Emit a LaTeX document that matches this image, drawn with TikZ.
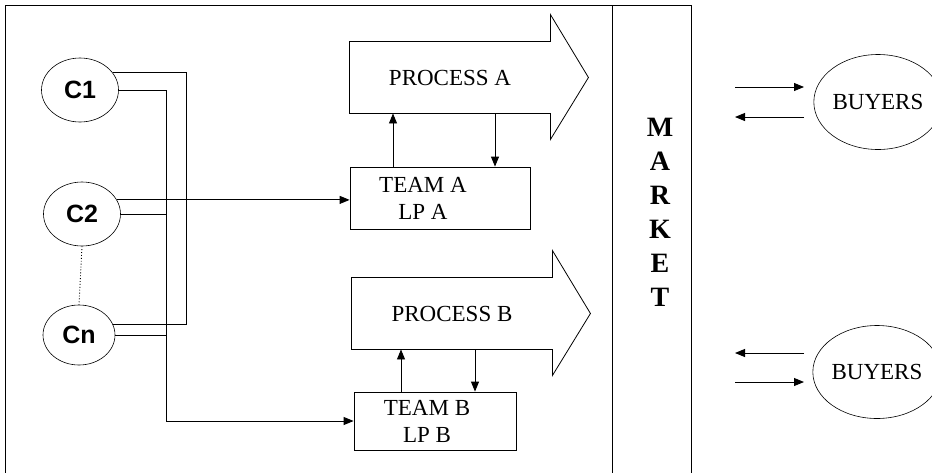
\documentclass[tikz,border=0pt]{standalone}
\usepackage{fontspec}
\setmainfont{Liberation Serif}
\newfontfamily\clientfont{Liberation Sans}
\usetikzlibrary{positioning}
\usetikzlibrary{calc}
\usetikzlibrary{shapes.geometric}
\usetikzlibrary{arrows.meta}

\begin{document}
\begin{tikzpicture}[x=1pt,y=-1pt,>={Triangle[length=10pt,width=8pt]},line width=0.9pt,
			node distance=124pt,font=\fontsize{23}{27}\selectfont]
			\tikzstyle{client}=[draw,ellipse,line width=0.6pt,inner sep=0pt,minimum width=77pt,minimum height=64pt,font=\clientfont\bfseries\fontsize{25}{28}\selectfont]
			\tikzstyle{buyer}=[draw,ellipse,line width=0.6pt,inner sep=0pt]
			\tikzstyle{team}=[draw,rectangle,inner sep=0pt,align=center,line width=0.8pt]
			\tikzstyle{process}=[inner sep=0pt,minimum width=200pt,minimum height=71pt]
			
			\useasboundingbox (0,0) rectangle (932,472);
			
			% frame and market column
			\draw[line width=0.8pt] (5,473) -- (5,5) -- (691,5) -- (691,473);
			\draw[line width=0.8pt] (612,5) -- (612,473);
			\node[font=\bfseries\fontsize{28}{34}\selectfont,align=center] (market) at (660,212) {M\\A\\R\\K\\E\\T};
			
			\node[client]         (C1) at (80,90) {C1};
			\node[client]         (C2) [below of=C1,xshift=2pt] {C2};
			\node[client,minimum width=72pt,minimum height=60pt,node distance=121pt] (Cn) [below of=C2,xshift=-3pt] {Cn};
			
			\node[process]        (procA) at (450,77.5) {PROCESS A};
			\node[process]        (procB) at (452,313.5) {PROCESS B};
			\node[team,minimum width=180pt,minimum height=62pt] (teamA) at (440,198) {TEAM A\hspace*{34pt}\\LP A\hspace*{34pt}};
			\node[team,minimum width=162pt,minimum height=58pt] (teamB) at (435,421) {TEAM B\hspace*{16pt}\\LP B\hspace*{16pt}};
			
			\node[buyer,minimum width=110pt,minimum height=95pt] (buyA) at (878,102) {BUYERS};
			\node[buyer,minimum width=116pt,minimum height=93pt] (buyB) at (877,372) {BUYERS};
			
			% big process arrows
			\foreach \p in {procA,procB}
			\draw[line width=0.8pt] (\p.north west) -- (\p.north east) -- ++(0,-27) -- ($(\p.east)+(38,0)$)
			-- ($(\p.south east)+(0,26)$) -- (\p.south east) -- (\p.south west) -- cycle;
			
			\coordinate (busL) at (166,0);
			\coordinate (busR) at (186,0);
			\coordinate (upA) at (393,0);
			\coordinate (dnA) at (495,0);
			\coordinate (upB) at (401,0);
			\coordinate (dnB) at (475,0);
			
			\draw (C1.28) -| (busR |- Cn.17) -- (Cn.17);
			\draw (C2.east) -- (busL |- C2.east);
			\draw (Cn.east) -- (busL |- Cn.east);
			\draw[->] (C1.east) -| (busL |- teamB.west) -- (teamB.west);
			\draw[->] (C2.22) -- (C2.22 -| teamA.west);
			\draw[dotted] (C2.south) -- (Cn.north);
			
			\draw[->] (upA |- teamA.north) -- (upA |- procA.south);
			\draw[->] (dnA |- procA.south) -- (dnA |- teamA.north);
			\draw[->] (upB |- teamB.north) -- (upB |- procB.south);
			\draw[->] (dnB |- procB.south) -- (dnB |- teamB.north);
			
			% market <-> buyers
			\coordinate (mA1) at (735,87);  \coordinate (bA1) at (804,87);
			\coordinate (mA2) at (735,117); \coordinate (bA2) at (804,117);
			\coordinate (mB1) at (735,353); \coordinate (bB1) at (804,353);
			\coordinate (mB2) at (735,382); \coordinate (bB2) at (804,382);
			\draw[->] (mA1) -- (bA1);
			\draw[->] (bA2) -- (mA2);
			\draw[->] (bB1) -- (mB1);
			\draw[->] (mB2) -- (bB2);
\end{tikzpicture}
\end{document}
